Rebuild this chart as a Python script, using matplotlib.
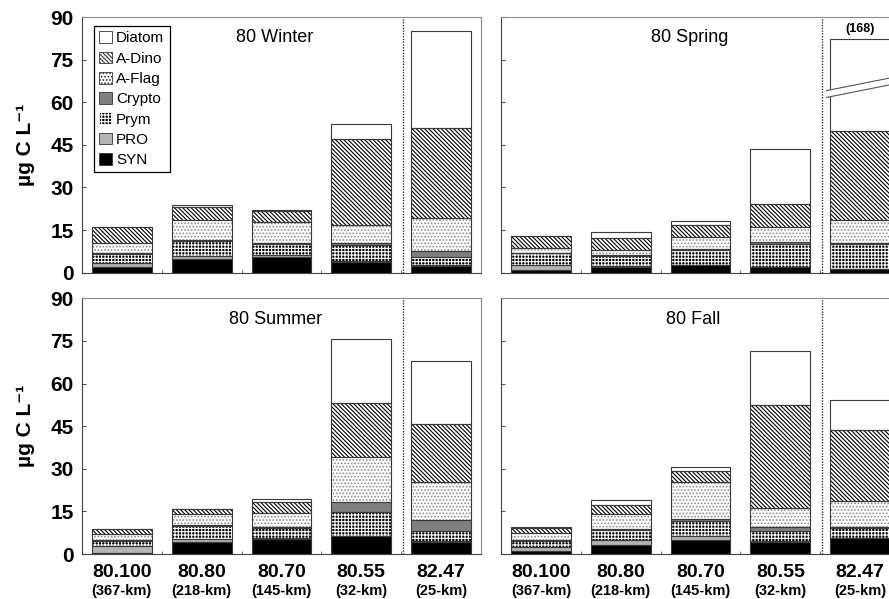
import numpy as np
import matplotlib
matplotlib.use('Agg')
import matplotlib.pyplot as plt
from matplotlib.patches import Patch, Polygon
from matplotlib.transforms import blended_transform_factory

plt.rcParams['font.family'] = ['Liberation Sans', 'DejaVu Sans']
plt.rcParams['hatch.linewidth'] = 0.8

stations = ['80.100', '80.80', '80.70', '80.55', '82.47']
distances = ['(367-km)', '(218-km)', '(145-km)', '(32-km)', '(25-km)']
groups = ['SYN', 'PRO', 'Prym', 'Crypto', 'A-Flag', 'A-Dino', 'Diatom']

# rows follow groups (bottom -> top), columns follow stations
winter = [
    [2.0, 4.8, 5.6, 3.9, 2.3],
    [1.5, 1.2, 0.5, 0.3, 0.5],
    [3.2, 5.3, 4.0, 5.5, 2.8],
    [0.3, 0.3, 0.3, 0.6, 2.0],
    [3.3, 7.0, 7.3, 6.5, 11.5],
    [5.7, 4.7, 4.0, 30.2, 31.7],
    [0.2, 0.4, 0.4, 5.2, 34.4],
]
spring = [
    [0.8, 1.9, 2.6, 2.0, 1.2],
    [1.9, 0.4, 0.2, 0.1, 0.2],
    [4.1, 3.6, 5.2, 8.0, 8.7],
    [0.3, 0.3, 0.3, 0.8, 0.4],
    [1.6, 1.8, 4.1, 5.1, 8.0],
    [4.1, 4.1, 4.4, 8.2, 31.5],
    [0.1, 2.1, 1.5, 19.3, 118.0],
]
summer = [
    [0.3, 4.1, 5.4, 6.3, 4.1],
    [2.6, 1.3, 0.1, 0.2, 0.5],
    [1.8, 4.6, 3.8, 8.4, 3.6],
    [0.3, 0.3, 0.3, 3.5, 3.8],
    [2.0, 3.8, 4.7, 15.8, 13.4],
    [1.8, 1.7, 3.9, 18.8, 20.2],
    [0.1, 0.1, 1.0, 22.7, 22.4],
]
fall = [
    [0.9, 3.2, 4.9, 4.3, 5.6],
    [1.7, 1.7, 1.4, 0.2, 0.2],
    [2.1, 3.5, 5.4, 3.7, 3.2],
    [0.3, 0.4, 0.5, 1.2, 0.6],
    [2.4, 5.3, 13.0, 6.7, 8.9],
    [1.9, 3.2, 3.9, 36.5, 25.3],
    [0.1, 1.6, 1.4, 18.8, 10.3],
]
seasons = ['80 Winter', '80 Spring', '80 Summer', '80 Fall']

# (face, hatch, hatch colour)
styles = {
    'SYN': ('black', None, 'black'),
    'PRO': ('#b4b4b4', None, '#b4b4b4'),
    'Prym': ('black', '+++++', 'white'),
    'Crypto': ('#7f7f7f', None, '#7f7f7f'),
    'A-Flag': ('white', '.....', '#8c8c8c'),
    'A-Dino': ('white', '\\' * 8, 'black'),
    'Diatom': ('white', None, 'white'),
}

CAP = 82.3       # drawn height of a bar that runs off the scale
width = 0.75
x = np.arange(len(stations))

fig = plt.figure(figsize=(8.89, 5.99), dpi=100)
axw, axh = 0.4488, 0.4269
pos = [(0.0922, 0.5447), (0.5636, 0.5447), (0.0922, 0.0751), (0.5636, 0.0751)]
title_x = [0.484, 0.474, 0.484, 0.481]

for k, (data, name) in enumerate(zip([winter, spring, summer, fall], seasons)):
    ax = fig.add_axes([pos[k][0], pos[k][1], axw, axh])
    vals = np.array(data)
    totals = vals.sum(axis=0)
    cap = np.where(totals > 90, CAP, np.inf)
    bottom = np.zeros(len(stations))
    for g, row in zip(groups, vals):
        top = bottom + row
        b = np.minimum(bottom, cap)
        h = np.minimum(top, cap) - b
        face, hatch, hc = styles[g]
        ax.bar(x, h, width, bottom=b, color=face, hatch=hatch,
               edgecolor=hc, linewidth=0, zorder=2)
        ax.bar(x, h, width, bottom=b, fill=False, edgecolor='#3a3a3a',
               linewidth=0.8, zorder=3)
        bottom = top

    # broken bar
    for i in np.where(totals > 90)[0]:
        xl, xr = x[i] - 0.42, x[i] + 0.45
        y0, slope, gap = 61.7, 5.6, 2.4
        poly = Polygon([[xl, y0], [xr, y0 + slope * (xr - xl)],
                        [xr, y0 + gap + slope * (xr - xl)], [xl, y0 + gap]],
                       closed=True, facecolor='white', edgecolor='none', zorder=4)
        ax.add_patch(poly)
        for yy in (y0, y0 + gap):
            ax.plot([xl, xr], [yy, yy + slope * (xr - xl)], color='#555',
                    lw=0.8, zorder=5)
        ax.text(x[i], CAP + 1.5, '(%d)' % round(totals[i]), ha='center',
                va='bottom', fontsize=9, fontweight='bold', zorder=5)

    ax.axvline(3.52, color='#333', ls=(0, (1, 1)), lw=1.0, zorder=1)
    ax.set_xlim(-0.5, 4.5)
    ax.set_ylim(0, 90)
    ax.set_yticks(np.arange(0, 91, 15))
    ax.set_xticks(x)
    ax.set_xticks(x[:-1] + 0.5, minor=True)
    ax.tick_params(axis='x', which='major', length=0, pad=7)
    ax.tick_params(axis='x', which='minor', length=2, direction='in', color='#555')
    ax.tick_params(axis='y', length=3, direction='in', color='#555', pad=6)
    for side in ['top', 'right', 'bottom']:
        ax.spines[side].set_color('#8c8c8c')
        ax.spines[side].set_linewidth(0.8)
    ax.spines['left'].set_color('#444')
    ax.spines['bottom'].set_color('#444')

    if k % 2 == 0:
        ax.set_yticklabels([str(v) for v in range(0, 91, 15)],
                           fontsize=15, fontweight='bold')
        ax.set_ylabel('µg C L⁻¹', fontsize=15, fontweight='bold', labelpad=11)
    else:
        ax.set_yticklabels([])

    if k >= 2:
        ax.set_xticklabels(stations, fontsize=14, fontweight='bold')
        tr = blended_transform_factory(ax.transData, ax.transAxes)
        for xi, d in zip(x, distances):
            ax.text(xi, -0.145, d, transform=tr, ha='center', va='center',
                    fontsize=10.5, fontweight='bold')
    else:
        ax.set_xticklabels([])

    ax.text(title_x[k], 0.918, name, transform=ax.transAxes, ha='center',
            va='center', fontsize=13)

    if k == 0:
        handles = [Patch(facecolor=styles[g][0], hatch=styles[g][1],
                         edgecolor='#333' if g != 'Prym' else 'white',
                         linewidth=0.6) for g in groups[::-1]]
        leg = ax.legend(handles, groups[::-1], loc='upper left',
                        bbox_to_anchor=(0.03, 0.965), fontsize=11,
                        handlelength=0.8, handleheight=0.8, handletextpad=0.3,
                        borderpad=0.35, labelspacing=0.4, fancybox=False,
                        framealpha=1, borderaxespad=0)
        leg.get_frame().set_edgecolor('black')
        leg.get_frame().set_linewidth(0.9)

fig.savefig('out.png', dpi=100)
